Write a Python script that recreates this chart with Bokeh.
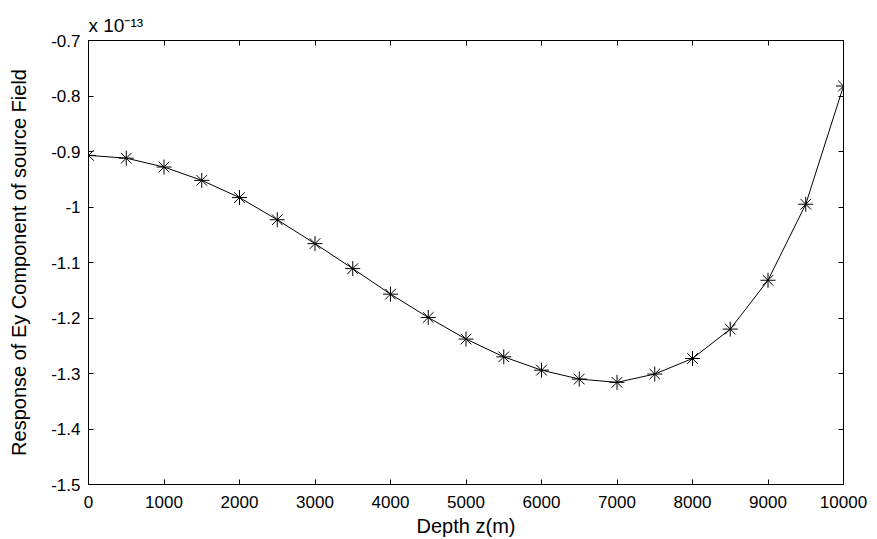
from bokeh.plotting import figure
from bokeh.models import Range1d, LinearAxis, FixedTicker, CustomJSTickFormatter
from bokeh.embed import file_html
from bokeh.resources import INLINE

# Data: depth (m) and response in units of 1e-13
depth = [0, 500, 1000, 1500, 2000, 2500, 3000, 3500, 4000, 4500, 5000,
         5500, 6000, 6500, 7000, 7500, 8000, 8500, 9000, 9500, 10000]
response_e13 = [-0.907, -0.912, -0.928, -0.952, -0.983, -1.023, -1.066, -1.111,
                -1.157, -1.199, -1.238, -1.270, -1.294, -1.310, -1.316, -1.301,
                -1.273, -1.220, -1.132, -0.995, -0.782]
x_ticks = [0, 1000, 2000, 3000, 4000, 5000, 6000, 7000, 8000, 9000, 10000]
y_ticks = [-1.5, -1.4, -1.3, -1.2, -1.1, -1.0, -0.9, -0.8, -0.7]
y_tick_labels = {-1.5: "-1.5", -1.4: "-1.4", -1.3: "-1.3", -1.2: "-1.2", -1.1: "-1.1",
                 -1.0: "-1", -0.9: "-0.9", -0.8: "-0.8", -0.7: "-0.7"}
x_label = "Depth z(m)"
y_label = "Response of Ey Component of source Field"
scale_label = "x 10\u207b\u00b9\u00b3"
FONT = "Liberation Sans"

W, H = 877, 539
LEFT, TOP, RIGHT, BOTTOM = 88, 40, 34, 55

p = figure(width=W, height=H, output_backend="svg", toolbar_location=None,
           x_range=Range1d(0, 10000), y_range=Range1d(-1.5, -0.7),
           min_border_left=LEFT, min_border_right=RIGHT, min_border_top=TOP,
           min_border_bottom=BOTTOM, title=scale_label, title_location="above")
p.grid.visible = False
p.outline_line_color = "black"
p.outline_line_width = 1
p.background_fill_color = "white"
p.border_fill_color = "white"

p.title.align = "left"
p.title.text_font = FONT
p.title.text_font_size = "19px"
p.title.text_font_style = "normal"
p.title.text_color = "black"
p.title.offset = 0
p.title.standoff = 10

def style_axis(ax):
    ax.axis_line_color = "black"
    ax.major_tick_in = 5
    ax.major_tick_out = 0
    ax.minor_tick_line_color = None
    ax.major_label_text_font = FONT
    ax.major_label_text_font_size = "17px"
    ax.major_label_text_color = "black"
    ax.axis_label_text_font = FONT
    ax.axis_label_text_font_size = "20px"
    ax.axis_label_text_font_style = "normal"
    ax.axis_label_text_color = "black"

p.xaxis.ticker = FixedTicker(ticks=x_ticks)
p.yaxis.ticker = FixedTicker(ticks=y_ticks)
p.yaxis.major_label_overrides = y_tick_labels
p.xaxis.axis_label = x_label
p.yaxis.axis_label = y_label
style_axis(p.xaxis[0])
style_axis(p.yaxis[0])
p.xaxis.major_label_standoff = 11
p.yaxis.major_label_standoff = 8
p.xaxis.axis_label_standoff = 4
p.yaxis.axis_label_standoff = 18

top = LinearAxis(ticker=FixedTicker(ticks=x_ticks), formatter=CustomJSTickFormatter(code="return ''"))
right = LinearAxis(ticker=FixedTicker(ticks=y_ticks), formatter=CustomJSTickFormatter(code="return ''"))
for ax in (top, right):
    style_axis(ax)
    ax.major_label_standoff = 0
p.add_layout(top, "above")
p.add_layout(right, "right")

p.line(depth, response_e13, line_color="black", line_width=1)
p.scatter(depth, response_e13, marker="asterisk", size=15, line_color="black", line_width=1)

open("out.html", "w").write(file_html(p, INLINE))
